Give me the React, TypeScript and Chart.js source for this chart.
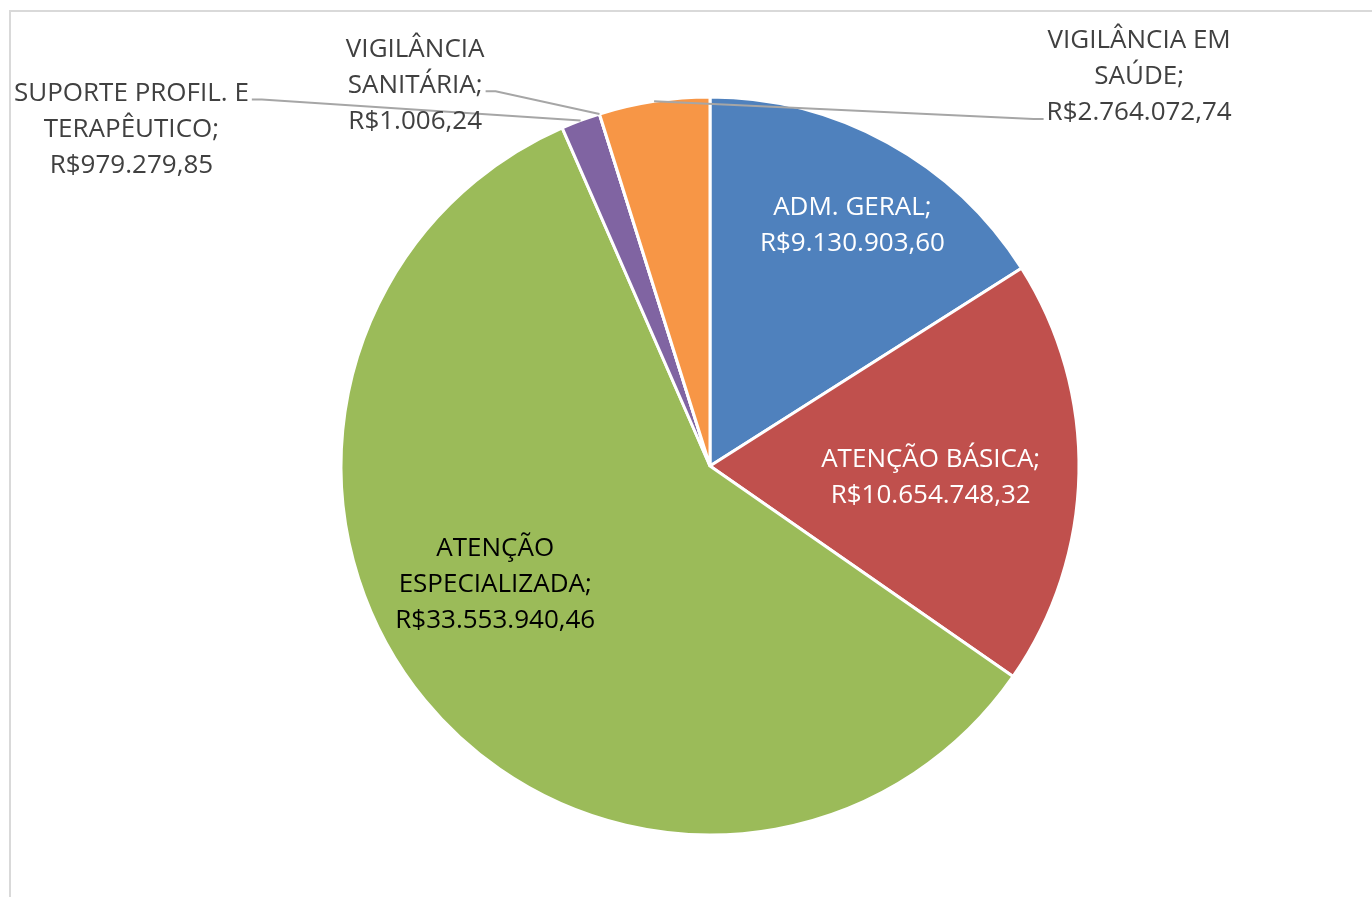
import React, { useEffect, useRef } from "react";
import { Chart, registerables } from "chart.js";

Chart.register(...registerables);

const categories = [
  "ADM. GERAL",
  "ATENÇÃO BÁSICA",
  "ATENÇÃO ESPECIALIZADA",
  "SUPORTE PROFIL. E TERAPÊUTICO",
  "VIGILÂNCIA SANITÁRIA",
  "VIGILÂNCIA EM SAÚDE",
];
const values = [9130903.6, 10654748.32, 33553940.46, 979279.85, 1006.24, 2764072.74];
const valueLabels = [
  "R$9.130.903,60",
  "R$10.654.748,32",
  "R$33.553.940,46",
  "R$979.279,85",
  "R$1.006,24",
  "R$2.764.072,74",
];
const labelLines = [
  ["ADM. GERAL;"],
  ["ATENÇÃO BÁSICA;"],
  ["ATENÇÃO", "ESPECIALIZADA;"],
  ["SUPORTE PROFIL. E", "TERAPÊUTICO;"],
  ["VIGILÂNCIA", "SANITÁRIA;"],
  ["VIGILÂNCIA EM", "SAÚDE;"],
];
const colors = ["#4F81BD", "#C0504D", "#9BBB59", "#8064A2", "#4BACC6", "#F79646"];
const textColors = ["#FFFFFF", "#FFFFFF", "#000000", "#404040", "#404040", "#404040"];

// label anchor offsets, relative to pie centre in units of radius
const labelOffsets: [number, number][] = [
  [0.386, -0.652],
  [0.598, 0.032],
  [-0.582, 0.321],
  [-1.568, -0.912],
  [-0.799, -1.032],
  [1.163, -1.054],
];
// leader: which line it attaches to, and on which side
const leaders: (null | { line: number; side: "left" | "right" })[] = [
  null,
  null,
  null,
  { line: 0, side: "right" },
  { line: 1, side: "right" },
  { line: 2, side: "left" },
];

const FONT = '26px "Open Sans"';
const LINE_H = 36;

const labelPlugin = {
  id: "pieLabels",
  beforeDraw(chart: any) {
    const ctx = chart.ctx;
    ctx.save();
    ctx.strokeStyle = "#D9D9D9";
    ctx.lineWidth = 2;
    ctx.beginPath();
    ctx.moveTo(10, chart.height + 5);
    ctx.lineTo(10, 11);
    ctx.lineTo(chart.width + 5, 11);
    ctx.stroke();
    ctx.restore();
  },
  afterDraw(chart: any) {
    const ctx = chart.ctx;
    const meta = chart.getDatasetMeta(0);
    ctx.save();
    ctx.font = FONT;
    ctx.textAlign = "center";
    ctx.textBaseline = "middle";
    meta.data.forEach((arc: any, i: number) => {
      const { x, y, outerRadius, startAngle, endAngle } = arc.getProps(
        ["x", "y", "outerRadius", "startAngle", "endAngle"],
        true
      );
      const lines = [...labelLines[i], valueLabels[i]];
      const cx = x + labelOffsets[i][0] * outerRadius;
      const cy = y + labelOffsets[i][1] * outerRadius;
      const top = cy - ((lines.length - 1) * LINE_H) / 2;
      ctx.fillStyle = textColors[i];
      lines.forEach((t, k) => ctx.fillText(t, cx, top + k * LINE_H));

      const ld = leaders[i];
      if (ld) {
        const mid = (startAngle + endAngle) / 2;
        const ax = x + Math.cos(mid) * outerRadius;
        const ay = y + Math.sin(mid) * outerRadius;
        const w = ctx.measureText(lines[ld.line]).width;
        const ly = top + ld.line * LINE_H + 6;
        const sx = ld.side === "right" ? cx + w / 2 + 3 : cx - w / 2 - 3;
        const ex = ld.side === "right" ? sx + 10 : sx - 10;
        ctx.strokeStyle = "#A6A6A6";
        ctx.lineWidth = 2;
        ctx.beginPath();
        ctx.moveTo(sx, ly);
        ctx.lineTo(ex, ly);
        ctx.lineTo(ax, ay);
        ctx.stroke();
      }
    });
    ctx.restore();
  },
};

export default function App() {
  const ref = useRef<HTMLCanvasElement | null>(null);
  useEffect(() => {
    if (!ref.current) return;
    const chart = new Chart(ref.current, {
      type: "pie",
      data: {
        labels: categories,
        datasets: [
          {
            data: values,
            backgroundColor: colors,
            borderColor: "#FFFFFF",
            borderWidth: 3,
          },
        ],
      },
      options: {
        responsive: false,
        animation: false,
        radius: 369,
        layout: { padding: { left: 48, right: 0, top: 35, bottom: 0 } },
        plugins: {
          legend: { display: false },
          tooltip: { enabled: false },
        },
      } as any,
      plugins: [labelPlugin],
    });
    return () => chart.destroy();
  }, []);
  return (
    <canvas
      ref={ref}
      width={1372}
      height={897}
      style={{ position: "fixed", left: 0, top: 0, width: 1372, height: 897 }}
    />
  );
}
